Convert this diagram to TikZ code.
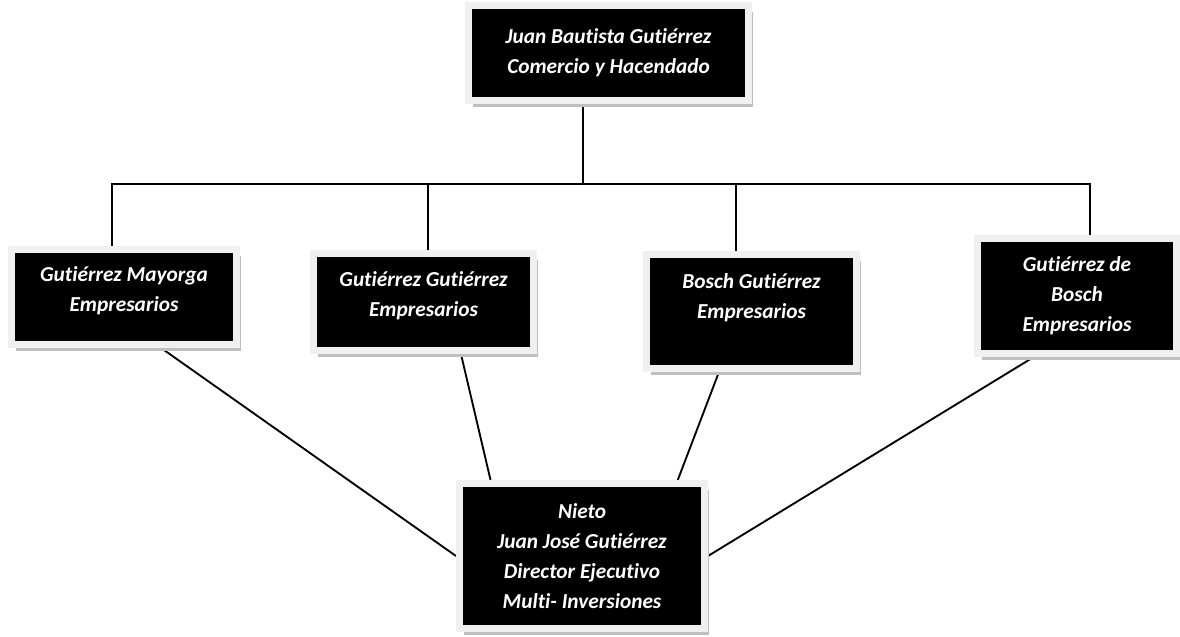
\documentclass[tikz,border=0pt]{standalone}
\usepackage{fontspec}
\setmainfont{Carlito}[Ligatures=NoCommon]
\usetikzlibrary{calc,shadows,backgrounds}
\definecolor{boxrim}{HTML}{F0F0F0}
\definecolor{boxshade}{HTML}{BFBFBF}
\begin{document}
\begin{tikzpicture}[x=0.75pt, y=-0.75pt,
    fam/.style={shape=rectangle, fill=black, draw=boxrim, line width=5.25pt,
      text=white, align=center, inner sep=0pt,
      font=\fontsize{16}{22.5}\selectfont\bfseries\itshape,
      drop shadow={shadow xshift=3pt, shadow yshift=-5pt, fill=boxshade, opacity=1}},
    link/.style={line width=1.4pt}]
  \useasboundingbox (0,0) rectangle (1180,636);
  \node[fam, minimum width=210pt, minimum height=71.25pt] (jbg) at (608.5,52.5)
    {Juan Bautista Gutiérrez\\Comercio y Hacendado};
  \node[fam, minimum width=168.75pt, minimum height=71.25pt] (gm) at (124,297)
    {Gutiérrez Mayorga\\Empresarios\\[-11pt]\mbox{}};
  \node[fam, minimum width=165pt, minimum height=72.75pt] (gg) at (423.5,302)
    {Gutiérrez Gutiérrez\\Empresarios\\[-11pt]\mbox{}};
  \node[fam, minimum width=157.5pt, minimum height=85.5pt] (bg) at (751.5,311.5)
    {Bosch Gutiérrez\\Empresarios\\\mbox{}};
  \node[fam, minimum width=149.25pt, minimum height=86.25pt] (gdb) at (1077,296)
    {Gutiérrez de\\Bosch\\Empresarios};
  \node[fam, minimum width=183.75pt, minimum height=108.75pt] (nieto) at (582,556)
    {Nieto\\Juan José Gutiérrez\\Director Ejecutivo\\Multi- Inversiones};
  \coordinate (bus) at (0,184);
  \coordinate (t0) at ($(jbg.south west)!0.41!(jbg.south east)$);
  \coordinate (t1) at ($(gm.north west)!0.45!(gm.north east)$);
  \coordinate (t2) at ($(gg.north west)!0.52!(gg.north east)$);
  \coordinate (t3) at ($(bg.north west)!0.43!(bg.north east)$);
  \coordinate (t4) at ($(gdb.north west)!0.565!(gdb.north east)$);
  \coordinate (b1) at ($(gm.south west)!0.66!(gm.south east)$);
  \coordinate (b2) at ($(gg.south west)!0.665!(gg.south east)$);
  \coordinate (b3) at ($(bg.south west)!0.35!(bg.south east)$);
  \coordinate (b4) at ($(gdb.south west)!0.29!(gdb.south east)$);
  \coordinate (n2) at ($(nieto.north west)!0.137!(nieto.north east)$);
  \coordinate (n3) at ($(nieto.north west)!0.88!(nieto.north east)$);
  \begin{scope}[on background layer]
    \draw[link] (t0) -- (t0 |- bus);
    \draw[link] (t1) -- (t1 |- bus) -- (t4 |- bus) -- (t4);
    \draw[link] (t2) -- (t2 |- bus);
    \draw[link] (t3) -- (t3 |- bus);
    \draw[link] (b1) -- (nieto.west);
    \draw[link] (b2) -- (n2);
    \draw[link] (b3) -- (n3);
    \draw[link] (b4) -- (nieto.east);
  \end{scope}
\end{tikzpicture}
\end{document}
